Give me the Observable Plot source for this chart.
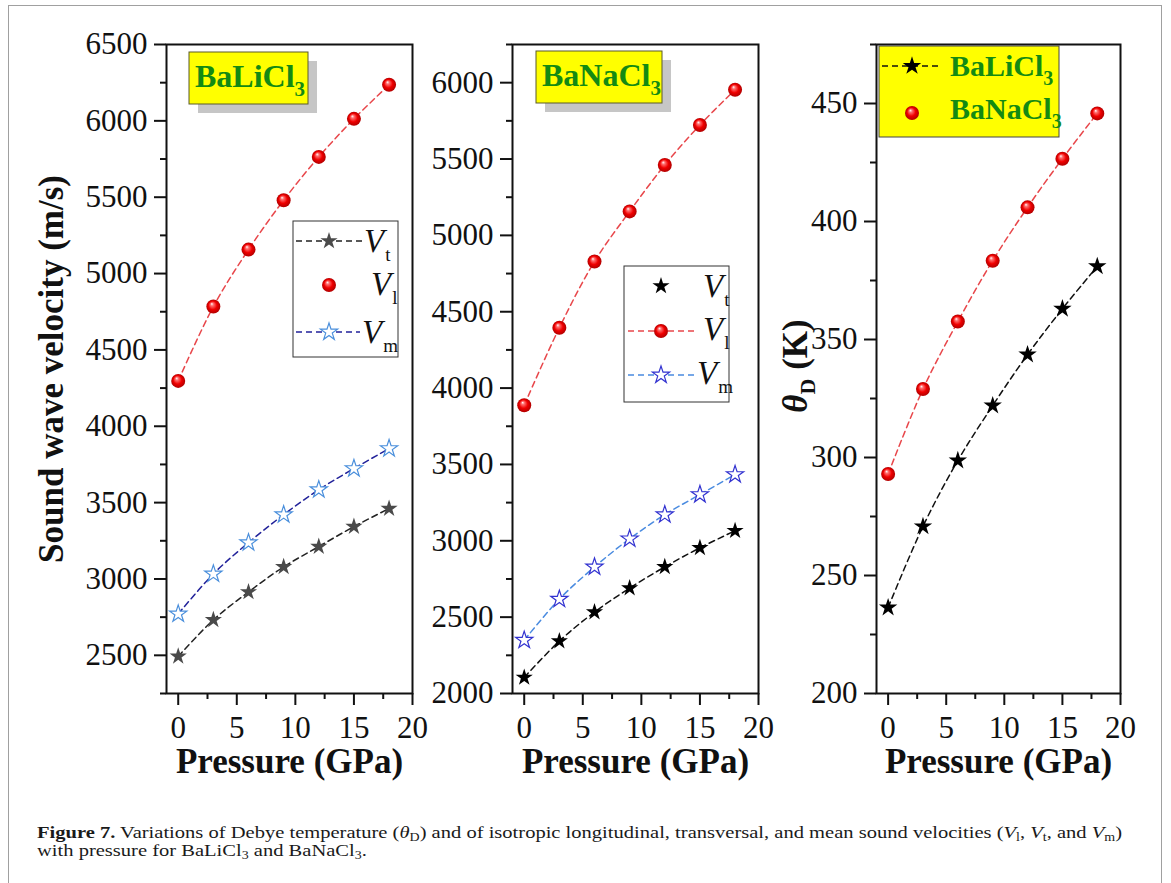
<!DOCTYPE html>
<html><head><meta charset="utf-8">
<script src="https://cdn.jsdelivr.net/npm/d3@7"></script>
<script src="https://cdn.jsdelivr.net/npm/@observablehq/plot@0.6"></script>
<style>
body{margin:0;background:#fff;}
#page{position:relative;width:1171px;height:883px;overflow:hidden;background:#fff;font-family:"Liberation Serif","Times New Roman",serif;}
#border{position:absolute;left:8px;top:5px;width:1154px;height:920px;border:1.5px solid #a0a0a0;box-sizing:border-box;}
.panel{position:absolute;top:0;}
.cap{position:absolute;left:37px;font-size:17.5px;line-height:18px;height:18px;white-space:nowrap;color:#1a1a1a;transform-origin:0 0;}
.cap sub{font-size:0.68em;vertical-align:-0.25em;line-height:0;}
</style></head>
<body>
<svg width="0" height="0" style="position:absolute">
  <defs>
    <radialGradient id="ball" cx="0.5" cy="0.5" r="0.5" fx="0.38" fy="0.3">
      <stop offset="0" stop-color="#ffffff"/>
      <stop offset="0.22" stop-color="#ff7070"/>
      <stop offset="0.6" stop-color="#f00000"/>
      <stop offset="1" stop-color="#b00000"/>
    </radialGradient>
  </defs>
</svg>
<div id="page">
  <div id="border"></div>
  <div id="p1" class="panel" style="left:0px"></div>
  <div id="p2" class="panel" style="left:414px"></div>
  <div id="p3" class="panel" style="left:762px"></div>
  <div id="cap1" class="cap" style="top:823px"><b>Figure 7.</b> Variations of Debye temperature (<i>θ</i><sub>D</sub>) and of isotropic longitudinal, transversal, and mean sound velocities (<i>V</i><sub>l</sub>, <i>V</i><sub>t</sub>, and <i>V</i><sub>m</sub>)</div>
  <div id="cap2" class="cap" style="top:841px">with pressure for BaLiCl<sub>3</sub> and BaNaCl<sub>3</sub>.</div>
</div>
<script>
// ---------------- data ----------------
const pressure = [0, 3, 6, 9, 12, 15, 18];
// BaLiCl3 sound velocities (m/s)
const liVt = [2493, 2732, 2915, 3079, 3212, 3343, 3461];
const liVl = [4297, 4784, 5157, 5480, 5764, 6013, 6236];
const liVm = [2771, 3033, 3238, 3421, 3585, 3723, 3854];
// BaNaCl3 sound velocities (m/s)
const naVt = [2105, 2343, 2533, 2690, 2829, 2954, 3066];
const naVl = [3888, 4395, 4829, 5157, 5461, 5723, 5954];
const naVm = [2349, 2618, 2829, 3013, 3171, 3303, 3434];
// Debye temperature (K)
const liTheta = [236.4, 270.8, 298.7, 322.0, 343.6, 363.0, 381.0];
const naTheta = [293.0, 329.0, 357.6, 383.4, 406.0, 426.6, 445.8];

// ticks
const xTicks = [0, 5, 10, 15, 20];
const xMinor = [2.5, 7.5, 12.5, 17.5];
const y1Ticks = [2500, 3000, 3500, 4000, 4500, 5000, 5500, 6000, 6500];
const y1Minor = [2250, 2750, 3250, 3750, 4250, 4750, 5250, 5750, 6250];
const y2Ticks = [2000, 2500, 3000, 3500, 4000, 4500, 5000, 5500, 6000];
const y2Minor = [2250, 2750, 3250, 3750, 4250, 4750, 5250, 5750, 6250];
const y3Ticks = [200, 250, 300, 350, 400, 450];
const y3Minor = [225, 275, 325, 375, 425, 475];

const xLabel = "Pressure (GPa)";
const yLabel1 = "Sound wave velocity (m/s)";

const FONT = "Liberation Serif, Times New Roman, serif";
const rows = vals => pressure.map((p, i) => ({p, v: vals[i]}));

const STAR_R = 5.4;
function lineMark(vals, color) {
  return Plot.line(rows(vals), {x: "p", y: "v", stroke: color, strokeWidth: 1.5, strokeDasharray: "6,4", curve: "catmull-rom"});
}
function ballMark(vals) {
  return Plot.dot(rows(vals), {x: "p", y: "v", r: 7, fill: "url(#ball)", stroke: "none"});
}
function starMark(vals, fill, stroke, r) {
  return Plot.dot(rows(vals), {x: "p", y: "v", symbol: "star", r: r || STAR_R, fill, stroke: stroke || "none", strokeWidth: 1.2});
}

function panel({width, marginLeft, marginRight, yDomain, yTicks, yMinor, marks, yTitle}) {
  return Plot.plot({
    width, height: 790, marginLeft, marginRight, marginTop: 44, marginBottom: 97,
    style: {fontFamily: FONT, background: "transparent", overflow: "visible", color: "#111"},
    x: {domain: [-1, 20], label: null},
    y: {domain: yDomain, label: null},
    marks: [
      Plot.axisX(xTicks, {tickSize: 12, tickPadding: 10, fontSize: 31, strokeWidth: 2, label: null, tickFormat: d => String(d)}),
      Plot.axisX(xMinor, {tickSize: 6, strokeWidth: 2, fill: "none", label: null}),
      Plot.axisY(yTicks, {tickSize: 12, tickPadding: 7, fontSize: 31, strokeWidth: 2, label: null, tickFormat: d => String(d)}),
      Plot.axisY(yMinor, {tickSize: 6, strokeWidth: 2, fill: "none", label: null}),
      ...marks,
      Plot.frame({stroke: "#111", strokeWidth: 2}),
      Plot.text([xLabel], {frameAnchor: "bottom", dy: 68, text: d => d, fontSize: 35, fontWeight: "bold", fill: "#111", lineAnchor: "middle", textAnchor: "middle"}),
      ...(yTitle ? [Plot.text([yTitle], {frameAnchor: "left", dx: -115, rotate: -90, text: d => d, fontSize: 35, fontWeight: "bold", fill: "#111", lineAnchor: "middle", textAnchor: "middle"})] : [])
    ]
  });
}

document.getElementById("p1").append(panel({
  width: 414, marginLeft: 166, marginRight: 2, yDomain: [2250, 6500], yTicks: y1Ticks, yMinor: y1Minor, yTitle: yLabel1,
  marks: [
    lineMark(liVl, "#e8474b"), lineMark(liVm, "#22229a"), lineMark(liVt, "#222"),
    ballMark(liVl), starMark(liVm, "white", "#4a8fdc"), starMark(liVt, "#4a4a4a")
  ]
}));
document.getElementById("p2").append(panel({
  width: 346, marginLeft: 98, marginRight: 2, yDomain: [2000, 6250], yTicks: y2Ticks, yMinor: y2Minor,
  marks: [
    lineMark(naVl, "#e8474b"), lineMark(naVm, "#4a8be0"), lineMark(naVt, "#111"),
    ballMark(naVl), starMark(naVm, "white", "#3232d0"), starMark(naVt, "#000")
  ]
}));
document.getElementById("p3").append(panel({
  width: 363, marginLeft: 114, marginRight: 5, yDomain: [200, 475], yTicks: y3Ticks, yMinor: y3Minor,
  marks: [
    lineMark(naTheta, "#e8474b"), lineMark(liTheta, "#111"),
    ballMark(naTheta), starMark(liTheta, "#000", null, 5.8)
  ]
}));

// ---------------- overlay: labels, legends, rich titles ----------------
const ov = d3.select("#page").append("svg")
  .attr("width", 1171).attr("height", 883)
  .style("position", "absolute").style("left", 0).style("top", 0).style("pointer-events", "none");

function rich(x, y, parts, {anchor = "start", rotate = 0, weight = "normal", fill = "#111"} = {}) {
  const t = ov.append("text")
    .attr("transform", `translate(${x},${y}) rotate(${rotate})`)
    .attr("text-anchor", anchor).attr("font-family", FONT)
    .attr("font-weight", weight).attr("fill", fill);
  let shift = 0;
  for (const p of parts) {
    const s = t.append("tspan").text(p.t).attr("font-size", p.size);
    if (p.italic) s.attr("font-style", "italic");
    const sub = p.sub || 0;
    if (sub !== shift) s.attr("dy", sub - shift);
    if (p.dx) s.attr("dx", p.dx);
    shift = sub;
  }
  return t;
}
function star(x, y, r, fill, stroke) {
  ov.append("path").attr("d", d3.symbol(d3.symbolStar, Math.PI * r * r)())
    .attr("transform", `translate(${x},${y})`)
    .attr("fill", fill).attr("stroke", stroke || "none").attr("stroke-width", 1.2);
}
function ball(x, y) {
  ov.append("circle").attr("cx", x).attr("cy", y).attr("r", 7).attr("fill", "url(#ball)");
}
function dash(x1, x2, y, color) {
  ov.append("line").attr("x1", x1).attr("x2", x2).attr("y1", y).attr("y2", y)
    .attr("stroke", color).attr("stroke-width", 1.5).attr("stroke-dasharray", "6,4");
}
function vLabel(x, y, sub) {
  rich(x, y, [{t: "V", size: 33, italic: true}, {t: sub, size: 19, sub: 9, dx: 1}]);
}

// compound label boxes
const GREEN = "#138a13";
function tagBox(x, y, w, h, name) {
  ov.append("rect").attr("x", x + 9).attr("y", y + 9).attr("width", w).attr("height", h).attr("fill", "#c6c6c6");
  ov.append("rect").attr("x", x).attr("y", y).attr("width", w).attr("height", h).attr("fill", "#ffff00").attr("stroke", "#5a5a2a").attr("stroke-width", 1);
  rich(x + 6, y + 35, [{t: name, size: 32}, {t: "3", size: 21, sub: 9}], {weight: "bold", fill: GREEN});
}
tagBox(189, 52, 119, 52, "BaLiCl");
tagBox(536, 51, 126, 52, "BaNaCl");

// legend panel 1
ov.append("rect").attr("x", 293).attr("y", 221).attr("width", 105).attr("height", 136).attr("fill", "white").attr("stroke", "#333").attr("stroke-width", 1);
dash(296, 362, 241, "#222"); star(329, 241, STAR_R, "#4a4a4a");
vLabel(364, 252, "t");
ball(329, 285);
vLabel(371, 295, "l");
dash(296, 360, 332, "#22229a"); star(329, 332, STAR_R, "white", "#4a8fdc");
vLabel(362, 343, "m");

// legend panel 2
ov.append("rect").attr("x", 624).attr("y", 266).attr("width", 105).attr("height", 136).attr("fill", "white").attr("stroke", "#333").attr("stroke-width", 1);
star(661, 286, STAR_R, "#000");
vLabel(703, 297, "t");
dash(628, 697, 331, "#e8474b"); ball(661, 331);
vLabel(703, 340, "l");
dash(628, 697, 375, "#4a8be0"); star(661, 375, STAR_R, "white", "#3232d0");
vLabel(697, 384, "m");

// legend panel 3
ov.append("rect").attr("x", 879).attr("y", 46).attr("width", 180).attr("height", 91).attr("fill", "#ffff00").attr("stroke", "#444").attr("stroke-width", 1);
dash(882, 938, 66, "#111"); star(912, 66, 5.8, "#000");
rich(950, 76, [{t: "BaLiCl", size: 30}, {t: "3", size: 20, sub: 9}], {weight: "bold", fill: GREEN});
ball(912, 113);
rich(950, 119, [{t: "BaNaCl", size: 30}, {t: "3", size: 20, sub: 9}], {weight: "bold", fill: GREEN});

// panel 3 y title: θD (K)
rich(807, 366, [{t: "θ", size: 35, italic: true}, {t: "D", size: 22, sub: 8}, {t: " (K)", size: 35}], {anchor: "middle", rotate: -90, weight: "bold"});

// fit caption lines to the reference width (first line spans 1085 px)
(function () {
  const c1 = document.getElementById("cap1"), c2 = document.getElementById("cap2");
  const w = c1.getBoundingClientRect().width;
  const s = 1085 / w;
  c1.style.transform = `scaleX(${s.toFixed(4)})`;
  c2.style.transform = `scaleX(${s.toFixed(4)})`;
})();
</script>
</body></html>
